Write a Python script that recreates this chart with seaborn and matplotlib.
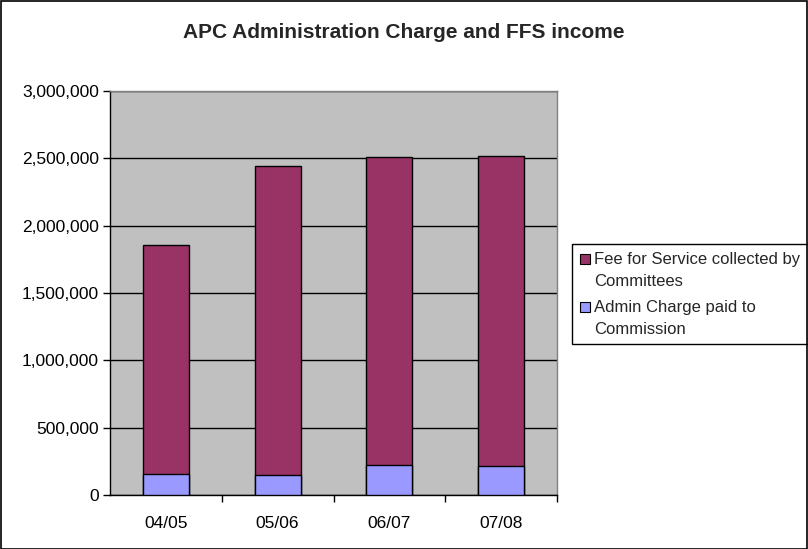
import matplotlib
matplotlib.use("Agg")
import matplotlib.pyplot as plt
import seaborn as sns
import pandas as pd
from matplotlib.patches import Rectangle, Patch
from matplotlib.legend_handler import HandlerPatch
from matplotlib.ticker import FuncFormatter, MultipleLocator, FixedLocator

years = ["04/05", "05/06", "06/07", "07/08"]
admin_charge = [158000, 148000, 224000, 217000]
fee_for_service = [1697000, 2295000, 2288000, 2300000]
series_labels = ["Fee for Service collected by\nCommittees", "Admin Charge paid to\nCommission"]
title = "APC Administration Charge and FFS income"

ffs_color = "#993366"
admin_color = "#9999FF"

sns.set_theme(style="white")
plt.rcParams['font.family'] = ['Liberation Sans', 'DejaVu Sans']

df = pd.DataFrame({"year": years, "admin": admin_charge, "ffs": fee_for_service})
df["total"] = df["admin"] + df["ffs"]

fig = plt.figure(figsize=(8.08, 5.49), dpi=100)
fig.patch.set_facecolor("white")
fig.patches.append(Rectangle((0.5/808, 0.5/549), 1 - 1.5/808, 1 - 1.5/549, transform=fig.transFigure,
                             fill=False, edgecolor="black", linewidth=1.2, zorder=10))
ax = fig.add_axes([110/808, (549-495)/549, 447/808, 404/549])
ax.set_facecolor("#C0C0C0")

sns.barplot(data=df, x="year", y="total", color=ffs_color, width=0.41, edgecolor="black",
            linewidth=1, saturation=1, ax=ax, zorder=3)
sns.barplot(data=df, x="year", y="admin", color=admin_color, width=0.41, edgecolor="black",
            linewidth=1, saturation=1, ax=ax, zorder=3)

ax.set_xlim(-0.5, 3.5)
ax.set_ylim(0, 3000000)
ax.yaxis.set_major_locator(MultipleLocator(500000))
ax.yaxis.set_major_formatter(FuncFormatter(lambda v, p: f"{int(v):,}"))
ax.grid(axis="y", color="black", linewidth=1, zorder=1)
ax.set_axisbelow(True)
ax.set_xlabel("")
ax.set_ylabel("")

ax.tick_params(axis="x", which="major", length=0, pad=15, labelsize=12.5, colors="black")
ax.xaxis.set_minor_locator(FixedLocator([0.5, 1.5, 2.5, 3.5]))
ax.tick_params(axis="x", which="minor", length=5, width=1, color="black", direction="out", bottom=True)
ax.tick_params(axis="y", length=5, width=1, color="black", direction="out", left=True, labelsize=12.5, pad=3)
for lab in ax.get_xticklabels() + ax.get_yticklabels():
    lab.set_color("black")

for s in ["left", "bottom"]:
    ax.spines[s].set_color("black")
    ax.spines[s].set_linewidth(1)
for s in ["top", "right"]:
    ax.spines[s].set_color("#808080")
    ax.spines[s].set_linewidth(1)

fig.text(0.5, 1 - 33/549, title, ha="center", va="center", fontsize=15, fontweight="bold")


def first_line_square(legend, orig_handle, xdescent, ydescent, width, height, fontsize):
    return Rectangle((-xdescent, -ydescent + 8), width, height)


handles = [Patch(facecolor=ffs_color, edgecolor="black", linewidth=0.8),
           Patch(facecolor=admin_color, edgecolor="black", linewidth=0.8)]
leg = fig.legend(handles, series_labels, loc="upper left", bbox_to_anchor=(572/808, 1 - 244/549),
                 fontsize=12, frameon=True, fancybox=False, edgecolor="black", framealpha=1,
                 handlelength=0.6, handleheight=0.6, handletextpad=0.3, borderpad=0.45,
                 labelspacing=0.65, borderaxespad=0,
                 handler_map={Patch: HandlerPatch(patch_func=first_line_square)})
for t in leg.get_texts():
    t.set_linespacing(1.6)
leg.get_frame().set_linewidth(1)

fig.savefig("out.png", dpi=100)
